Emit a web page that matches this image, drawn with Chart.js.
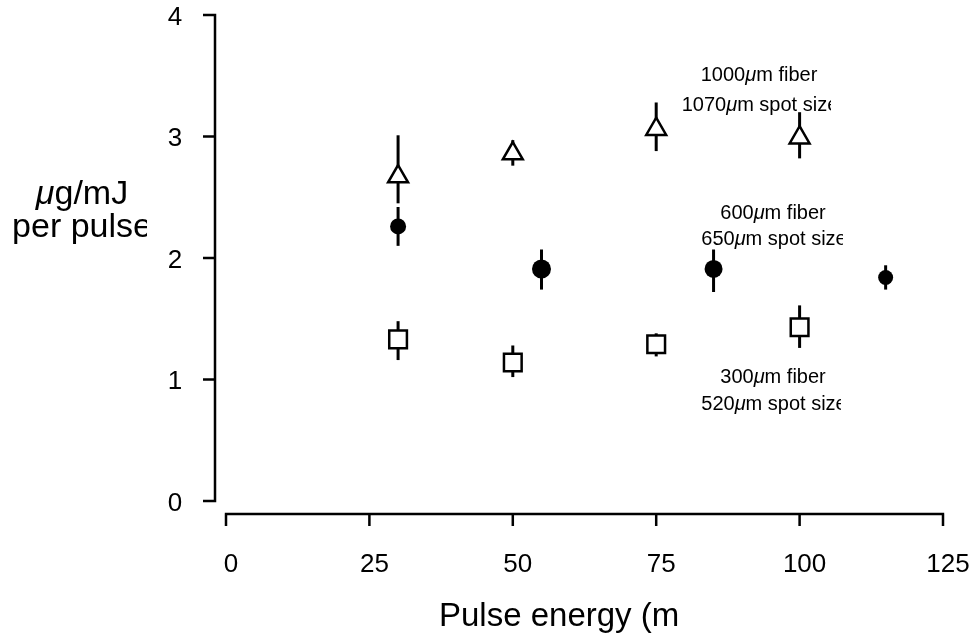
<!DOCTYPE html>
<html>
<head>
<meta charset="utf-8">
<script src="https://cdn.jsdelivr.net/npm/chart.js@4.4.0/dist/chart.umd.min.js"></script>
<style>
  html, body { margin: 0; padding: 0; background: #fff; }
  #wrap { width: 973px; height: 636px; position: relative; }
</style>
</head>
<body>
<div id="wrap"><canvas id="chart"></canvas></div>
<script>
// tick labels
const xTicks = [0, 25, 50, 75, 100, 125];
const yTicks = [0, 1, 2, 3, 4];

// 1000um fiber (open triangles)
const fiber1000X = [30, 50, 75, 100];
const fiber1000Y = [2.67, 2.86, 3.06, 2.99];
const fiber1000Up = [0.34, 0.11, 0.22, 0.21];
const fiber1000Down = [0.22, 0.10, 0.18, 0.17];

// 600um fiber (filled circles)
const fiber600X = [30, 55, 85, 115];
const fiber600Y = [2.26, 1.91, 1.91, 1.84];
const fiber600Up = [0.16, 0.16, 0.16, 0.10];
const fiber600Down = [0.16, 0.17, 0.19, 0.10];

// 300um fiber (open squares)
const fiber300X = [30, 50, 75, 100];
const fiber300Y = [1.33, 1.14, 1.29, 1.43];
const fiber300Up = [0.15, 0.14, 0.09, 0.18];
const fiber300Down = [0.17, 0.12, 0.10, 0.17];

const FONT = '"Liberation Sans", Arial, Helvetica, sans-serif';

function pts(xs, ys, up, down){
  return xs.map((x,i)=>({x:x, y:ys[i], up:up[i], down:down[i]}));
}

// draws text made of plain / italic parts
function richText(ctx, parts, x, y, size, align){
  let w = 0;
  parts.forEach(p=>{
    ctx.font = (p.i ? 'italic ' : '') + size + 'px ' + FONT;
    p.w = ctx.measureText(p.t).width;
    w += p.w;
  });
  let cx = align === 'center' ? x - w/2 : x;
  ctx.textAlign = 'left';
  parts.forEach(p=>{
    ctx.font = (p.i ? 'italic ' : '') + size + 'px ' + FONT;
    ctx.fillText(p.t, cx, y);
    cx += p.w;
  });
}

function clipped(ctx, right, fn){
  ctx.save();
  ctx.beginPath();
  ctx.rect(0, 0, right, 636);
  ctx.clip();
  fn();
  ctx.restore();
}

const errorBars = {
  id: 'errorBars',
  beforeDatasetsDraw(chart){
    const ctx = chart.ctx, xs = chart.scales.x, ys = chart.scales.y;
    ctx.save();
    ctx.strokeStyle = '#000';
    ctx.lineWidth = 3;
    chart.data.datasets.forEach(ds=>{
      ds.data.forEach(p=>{
        const px = xs.getPixelForValue(p.x);
        ctx.beginPath();
        ctx.moveTo(px, ys.getPixelForValue(p.y + p.up));
        ctx.lineTo(px, ys.getPixelForValue(p.y - p.down));
        ctx.stroke();
      });
    });
    ctx.restore();
  }
};

const axesAndText = {
  id: 'axesAndText',
  afterDraw(chart){
    const ctx = chart.ctx, xs = chart.scales.x, ys = chart.scales.y;
    ctx.save();
    ctx.strokeStyle = '#000';
    ctx.fillStyle = '#000';
    ctx.lineWidth = 2.5;
    ctx.lineCap = 'butt';

    // y axis, detached to the left
    const yAxisX = xs.left - 11;
    ctx.beginPath();
    ctx.moveTo(yAxisX, ys.getPixelForValue(yTicks[yTicks.length-1]) - 1.2);
    ctx.lineTo(yAxisX, ys.getPixelForValue(yTicks[0]) + 1.2);
    ys.ticks.forEach(t=>{
      const py = ys.getPixelForValue(t.value);
      ctx.moveTo(yAxisX - 12, py);
      ctx.lineTo(yAxisX, py);
    });
    ctx.stroke();

    // x axis, detached below
    const xAxisY = ys.bottom + 13;
    ctx.beginPath();
    ctx.moveTo(xs.getPixelForValue(xTicks[0]) - 1.2, xAxisY);
    ctx.lineTo(xs.getPixelForValue(xTicks[xTicks.length-1]) + 1.2, xAxisY);
    xs.ticks.forEach(t=>{
      const px = xs.getPixelForValue(t.value);
      ctx.moveTo(px, xAxisY);
      ctx.lineTo(px, xAxisY + 12);
    });
    ctx.stroke();

    // tick labels
    ctx.font = '26px ' + FONT;
    ctx.textAlign = 'center';
    ctx.textBaseline = 'alphabetic';
    ys.ticks.forEach(t=>{
      ctx.fillText(String(t.value), 175, ys.getPixelForValue(t.value) + 9.5);
    });
    xs.ticks.forEach(t=>{
      ctx.fillText(String(t.value), xs.getPixelForValue(t.value) + 5, 572);
    });

    // axis titles
    ctx.font = '33px ' + FONT;
    ctx.textAlign = 'left';
    ctx.fillText('Pulse energy (m', 439, 626);
    richText(ctx, [{t:'\u03bc', i:true}, {t:'g/mJ'}], 82, 204, 34, 'center');
    clipped(ctx, 147, ()=>{
      ctx.font = '34px ' + FONT;
      ctx.textAlign = 'center';
      ctx.fillText('per pulse', 82, 237);
    });

    // series labels
    const s = 20;
    richText(ctx, [{t:'1000'}, {t:'\u03bc', i:true}, {t:'m fiber'}], 759, 81, s, 'center');
    clipped(ctx, 831, ()=>richText(ctx, [{t:'1070'}, {t:'\u03bc', i:true}, {t:'m spot size'}], 760, 111, s, 'center'));
    richText(ctx, [{t:'600'}, {t:'\u03bc', i:true}, {t:'m fiber'}], 773, 219, s, 'center');
    clipped(ctx, 843, ()=>richText(ctx, [{t:'650'}, {t:'\u03bc', i:true}, {t:'m spot size'}], 774, 245, s, 'center'));
    richText(ctx, [{t:'300'}, {t:'\u03bc', i:true}, {t:'m fiber'}], 773, 383, s, 'center');
    clipped(ctx, 841, ()=>richText(ctx, [{t:'520'}, {t:'\u03bc', i:true}, {t:'m spot size'}], 774, 410, s, 'center'));

    ctx.restore();
  }
};

new Chart(document.getElementById('chart'), {
  type: 'scatter',
  data: {
    datasets: [
      {
        label: '1000um fiber',
        data: pts(fiber1000X, fiber1000Y, fiber1000Up, fiber1000Down),
        pointStyle: 'triangle',
        pointRadius: 11.5,
        backgroundColor: '#fff',
        borderColor: '#000',
        borderWidth: 2.5
      },
      {
        label: '600um fiber',
        data: pts(fiber600X, fiber600Y, fiber600Up, fiber600Down),
        pointStyle: 'circle',
        pointRadius: [8, 9.5, 9, 7.5],
        backgroundColor: '#000',
        borderColor: '#000',
        borderWidth: 0
      },
      {
        label: '300um fiber',
        data: pts(fiber300X, fiber300Y, fiber300Up, fiber300Down),
        pointStyle: 'rect',
        pointRadius: 12.5,
        backgroundColor: '#fff',
        borderColor: '#000',
        borderWidth: 2.5
      }
    ]
  },
  options: {
    responsive: true,
    maintainAspectRatio: false,
    animation: false,
    layout: { padding: { left: 0, right: 30, top: 15, bottom: 0 } },
    plugins: { legend: { display: false }, tooltip: { enabled: false } },
    scales: {
      x: {
        type: 'linear', min: 0, max: 125,
        afterBuildTicks: s => { s.ticks = xTicks.map(v => ({value: v})); },
        afterFit: s => { s.height = 135; },
        grid: { display: false }, border: { display: false },
        ticks: { display: false }
      },
      y: {
        type: 'linear', min: 0, max: 4,
        afterBuildTicks: s => { s.ticks = yTicks.map(v => ({value: v})); },
        afterFit: s => { s.width = 226; },
        grid: { display: false }, border: { display: false },
        ticks: { display: false }
      }
    }
  },
  plugins: [errorBars, axesAndText]
});
</script>
</body>
</html>
